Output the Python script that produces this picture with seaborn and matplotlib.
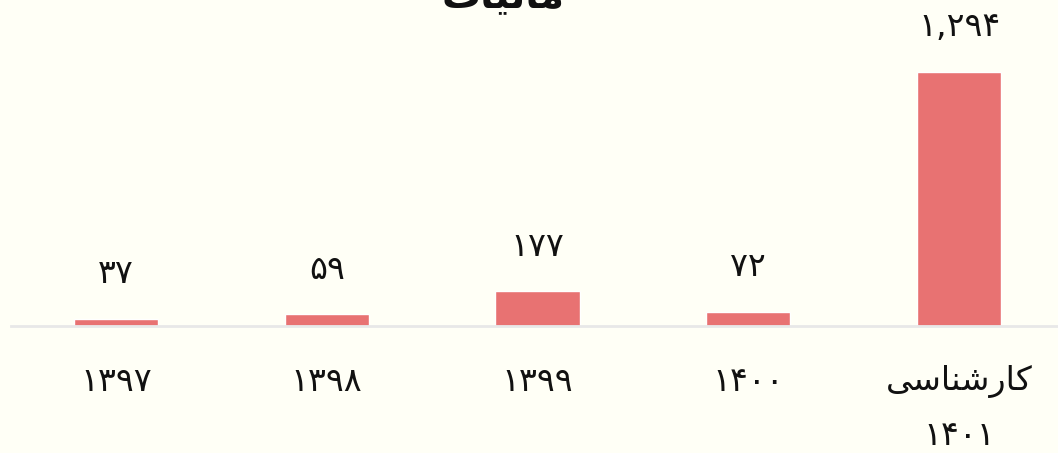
import matplotlib
matplotlib.use("Agg")
import matplotlib.pyplot as plt
import seaborn as sns
import pandas as pd

# Persian text written in shaped (presentation) forms, visual order
title_text = "\uFE95\uFE8E\uFBFF\uFEDF\uFE8E\uFEE3"          # مالیات
degree_word = "\uFBFD\uFEB3\uFE8E\uFEE8\uFEB7\uFEAD\uFE8E\uFB90"  # کارشناسی

years = ["۱۳۹۷", "۱۳۹۸", "۱۳۹۹", "۱۴۰۰", degree_word + "\n۱۴۰۱"]
values = [37, 59, 177, 72, 1294]
value_labels = ["۳۷", "۵۹", "۱۷۷", "۷۲", "۱,۲۹۴"]

bg = "#fffff6"
bar_color = "#e87272"

sns.set_theme(style="white")
plt.rcParams["font.family"] = ["DejaVu Sans"]

W, H = 1058, 453
fig = plt.figure(figsize=(W / 100, H / 100), dpi=100)
fig.patch.set_facecolor(bg)

base_px = 127
top_px = 433
ax = fig.add_axes([10.5 / W, base_px / H, 1054 / W, (top_px - base_px) / H])
ax.set_facecolor(bg)

df = pd.DataFrame({"year": years, "value": values})
sns.barplot(data=df, x="year", y="value", color=bar_color, saturation=1,
            width=0.4, ax=ax)

px_per_unit = 254 / 1294
ax.set_ylim(0, (top_px - base_px) / px_per_unit)
ax.set_xlim(-0.5, 4.5)

for i, (v, lab) in enumerate(zip(values, value_labels)):
    ax.annotate(lab, (i, v), xytext=(0, 45), textcoords="offset pixels",
                ha="center", va="center", fontsize=24, color="#111111",
                clip_on=False, annotation_clip=False)

ax.set_yticks([])
ax.set_xlabel("")
ax.set_ylabel("")
ax.tick_params(axis="x", length=0, pad=28, labelsize=24, labelcolor="#111111")
for lbl in ax.get_xticklabels():
    lbl.set_linespacing(1.8)
for s in ["top", "right", "left"]:
    ax.spines[s].set_visible(False)
ax.spines["bottom"].set_color("#e8e8e8")
ax.spines["bottom"].set_linewidth(2)

fig.text(503 / W, 1 - (-4) / H, title_text, ha="center", va="center",
         fontsize=28, fontweight="bold", color="#111111")

fig.savefig("out.png", dpi=100, facecolor=bg)
